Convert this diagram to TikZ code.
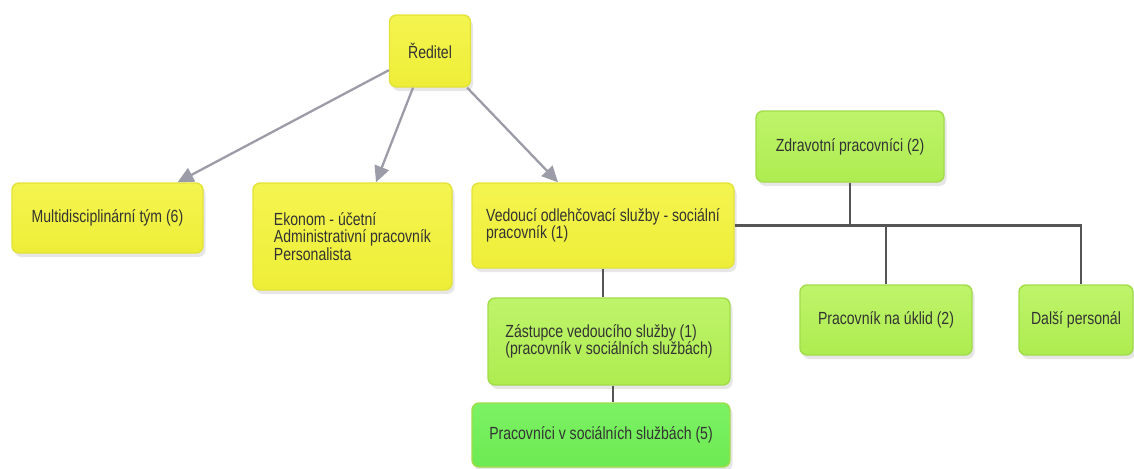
\documentclass[tikz,border=0pt]{standalone}
\usepackage{fontspec}
\setmainfont[FakeStretch=0.8]{Liberation Sans}
\usetikzlibrary{arrows.meta,shadows}
\definecolor{zluta}{HTML}{F4F450}
\definecolor{zlutaD}{HTML}{EEEE38}
\definecolor{zlutaR}{HTML}{E2E23A}
\definecolor{zelena}{HTML}{BEF46A}
\definecolor{zelenaD}{HTML}{AEEC50}
\definecolor{zelenaR}{HTML}{A2DC4A}
\definecolor{zelena2}{HTML}{7CF264}
\definecolor{zelena2D}{HTML}{6CEA52}
\definecolor{sipka}{HTML}{9C9CA8}
\definecolor{cara}{HTML}{555555}
\begin{document}
\begin{tikzpicture}[x=0.2mm, y=-0.2mm,
  font=\fontsize{10}{9.8}\selectfont, text=black!80,
  box/.style={rounded corners=4pt, align=left, inner sep=0pt, line width=0.8pt,
    drop shadow={shadow xshift=0.5mm, shadow yshift=-0.8mm, opacity=0.2}},
  yel/.style={box, draw=zlutaR, top color=zluta, bottom color=zlutaD},
  grn/.style={box, draw=zelenaR, top color=zelena, bottom color=zelenaD},
  grn2/.style={box, draw=zelenaR, top color=zelena2, bottom color=zelena2D},
  arr/.style={-{Triangle[length=3.2mm,width=3mm]}, sipka, line width=1.3pt},
  line/.style={cara, line width=1.2pt}]

\useasboundingbox (0,0) rectangle (1134,468);

\node[yel, minimum width=16.2mm, minimum height=14.4mm] (dir) at (430,51) {Ředitel};
\node[yel, minimum width=38.2mm, minimum height=14mm] (multi) at (107.5,218) {Multidisciplinární tým (6)};
\node[yel, minimum width=39.8mm, minimum height=21.4mm] (ekonom) at (352.5,236.5) {Ekonom - účetní\\Administrativní pracovník\\Personalista};
\node[yel, minimum width=52.4mm, minimum height=17mm] (vedouci) at (603,225.5) {Vedoucí odlehčovací služby - sociální\\pracovník (1)};
\node[grn, minimum width=37.6mm, minimum height=14.2mm] (zdrav) at (850,146.5) {Zdravotní pracovníci (2)};
\node[grn, minimum width=34.4mm, minimum height=14mm] (uklid) at (886,320) {Pracovník na úklid (2)};
\node[grn, minimum width=22.8mm, minimum height=14mm] (dalsi) at (1076,320) {Další personál};
\node[grn, minimum width=48.4mm, minimum height=17.4mm] (zast) at (609,341.5) {Zástupce vedoucího služby (1)\\(pracovník v sociálních službách)};
\node[grn2, minimum width=51.6mm, minimum height=12.8mm] (prac) at (601,435) {Pracovníci v sociálních službách (5)};

\draw[arr] (dir.205) -- ([xshift=14mm]multi.north);
\draw[arr] ([xshift=-3.4mm]dir.south) -- ([xshift=4.7mm]ekonom.north);
\draw[arr] ([xshift=-0.8mm]dir.south east) -- ([xshift=-9mm]vedouci.north);

\draw[line] (vedouci.east) -| ([xshift=1mm]dalsi.north);
\draw[line] (zdrav.south) -- (zdrav.south |- vedouci.east);
\draw[line] (uklid.north) -- (uklid.north |- vedouci.east);
\draw[line] (vedouci.south) -- (vedouci.south |- zast.north);
\draw[line] ([xshift=0.8mm]zast.south) -- ([xshift=0.8mm]zast.south |- prac.north);

\end{tikzpicture}
\end{document}
